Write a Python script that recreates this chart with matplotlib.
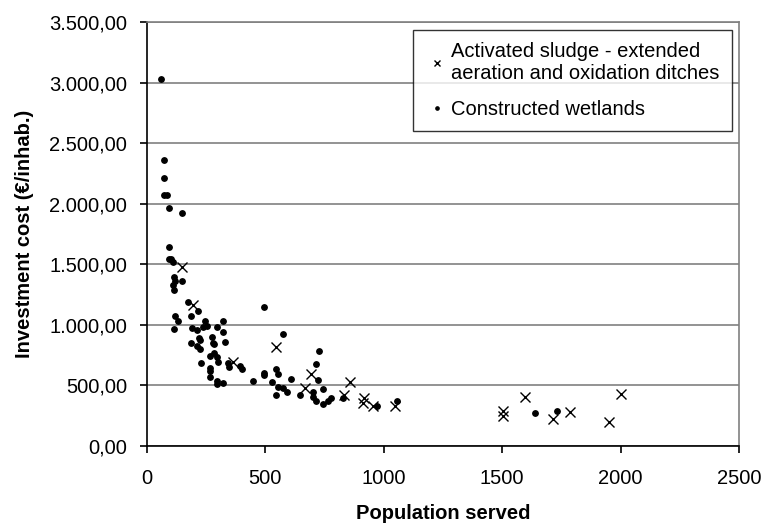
import matplotlib
matplotlib.use('Agg')
import matplotlib.pyplot as plt
from matplotlib.ticker import FuncFormatter, MultipleLocator

plt.rcParams['font.family'] = ['Liberation Sans', 'DejaVu Sans']

# Activated sludge - extended aeration and oxidation ditches
sludge_pop = [150, 197, 366, 546, 694, 666, 859, 832, 916, 912, 955, 1049,
              1502, 1502, 1598, 1713, 1785, 1952, 2000]
sludge_cost = [1482, 1165, 697, 816, 593, 475, 525, 421, 393, 353, 331, 333,
               285, 248, 407, 219, 281, 196, 428]

# Constructed wetlands
wet_pop = [62, 72, 72, 72, 84, 93, 148, 93, 93, 104, 110, 115, 121, 148, 110,
           115, 174, 217, 121, 187, 132, 245, 321, 115, 193, 214, 239, 256,
           296, 322, 220, 225, 275, 187, 281, 284, 332, 214, 225, 267, 284,
           296, 229, 342, 348, 394, 404, 267, 267, 267, 296, 296, 321, 448,
           496, 577, 496, 496, 545, 556, 611, 529, 556, 577, 594, 545, 714,
           729, 725, 648, 700, 700, 714, 746, 746, 767, 779, 828, 972, 1056,
           1638, 1732, 300]
wet_cost = [3031, 2361, 2212, 2074, 2074, 1964, 1926, 1647, 1543, 1543, 1523,
            1394, 1366, 1361, 1331, 1287, 1193, 1118, 1077, 1077, 1031, 1031,
            1031, 967, 978, 956, 986, 992, 986, 945, 895, 876, 903, 854, 854,
            840, 860, 829, 799, 744, 766, 733, 683, 688, 650, 661, 639, 642,
            622, 573, 535, 512, 523, 535, 1149, 926, 600, 585, 639, 595, 554,
            531, 490, 477, 444, 424, 680, 788, 545, 421, 446, 402, 372, 469,
            350, 374, 399, 394, 331, 374, 275, 289, 690]

fig = plt.figure(figsize=(7.63, 5.25), dpi=100)
ax = fig.add_axes([0.1923, 0.1505, 0.7763, 0.807])

ax.plot(sludge_pop, sludge_cost, linestyle='none', marker='x', color='black',
        markersize=6.5, markeredgewidth=1.0,
        label='Activated sludge - extended\naeration and oxidation ditches')
ax.plot(wet_pop, wet_cost, linestyle='none', marker='o', color='black',
        markersize=3.9, label='Constructed wetlands')

ax.set_xlim(0, 2500)
ax.set_ylim(0, 3500)
ax.xaxis.set_major_locator(MultipleLocator(500))
ax.yaxis.set_major_locator(MultipleLocator(500))


def euro_fmt(v, pos):
    s = f"{v:,.2f}"
    return s.replace(',', 'X').replace('.', ',').replace('X', '.')


ax.yaxis.set_major_formatter(FuncFormatter(euro_fmt))
ax.grid(axis='y', color='#808080', linewidth=1.2)
ax.set_axisbelow(True)

ax.spines['left'].set_color('black')
ax.spines['bottom'].set_color('black')
ax.spines['top'].set_color('#808080')
ax.spines['right'].set_color('#808080')
for sp in ax.spines.values():
    sp.set_linewidth(1.2)

ax.tick_params(axis='both', direction='out', length=5, width=1.2,
               labelsize=14.5, colors='black')
ax.tick_params(axis='y', pad=9)
ax.tick_params(axis='x', pad=11.5)

ax.set_xlabel('Population served', fontsize=14.5, fontweight='bold',
              va='top')
ax.xaxis.set_label_coords(0.5, -0.137)
ax.set_ylabel('Investment cost (€/inhab.)', fontsize=14.5, fontweight='bold',
              va='bottom')
ax.yaxis.set_label_coords(-0.19, 0.5)

leg = ax.legend(loc='upper right', bbox_to_anchor=(0.988, 0.983),
                fontsize=14.5, frameon=True, fancybox=False,
                edgecolor='black', markerscale=0.6, handlelength=1.2,
                handletextpad=0.1, borderpad=0.6, labelspacing=0.85,
                borderaxespad=0)
leg.get_frame().set_linewidth(1.0)

fig.savefig('out.png', dpi=100)
